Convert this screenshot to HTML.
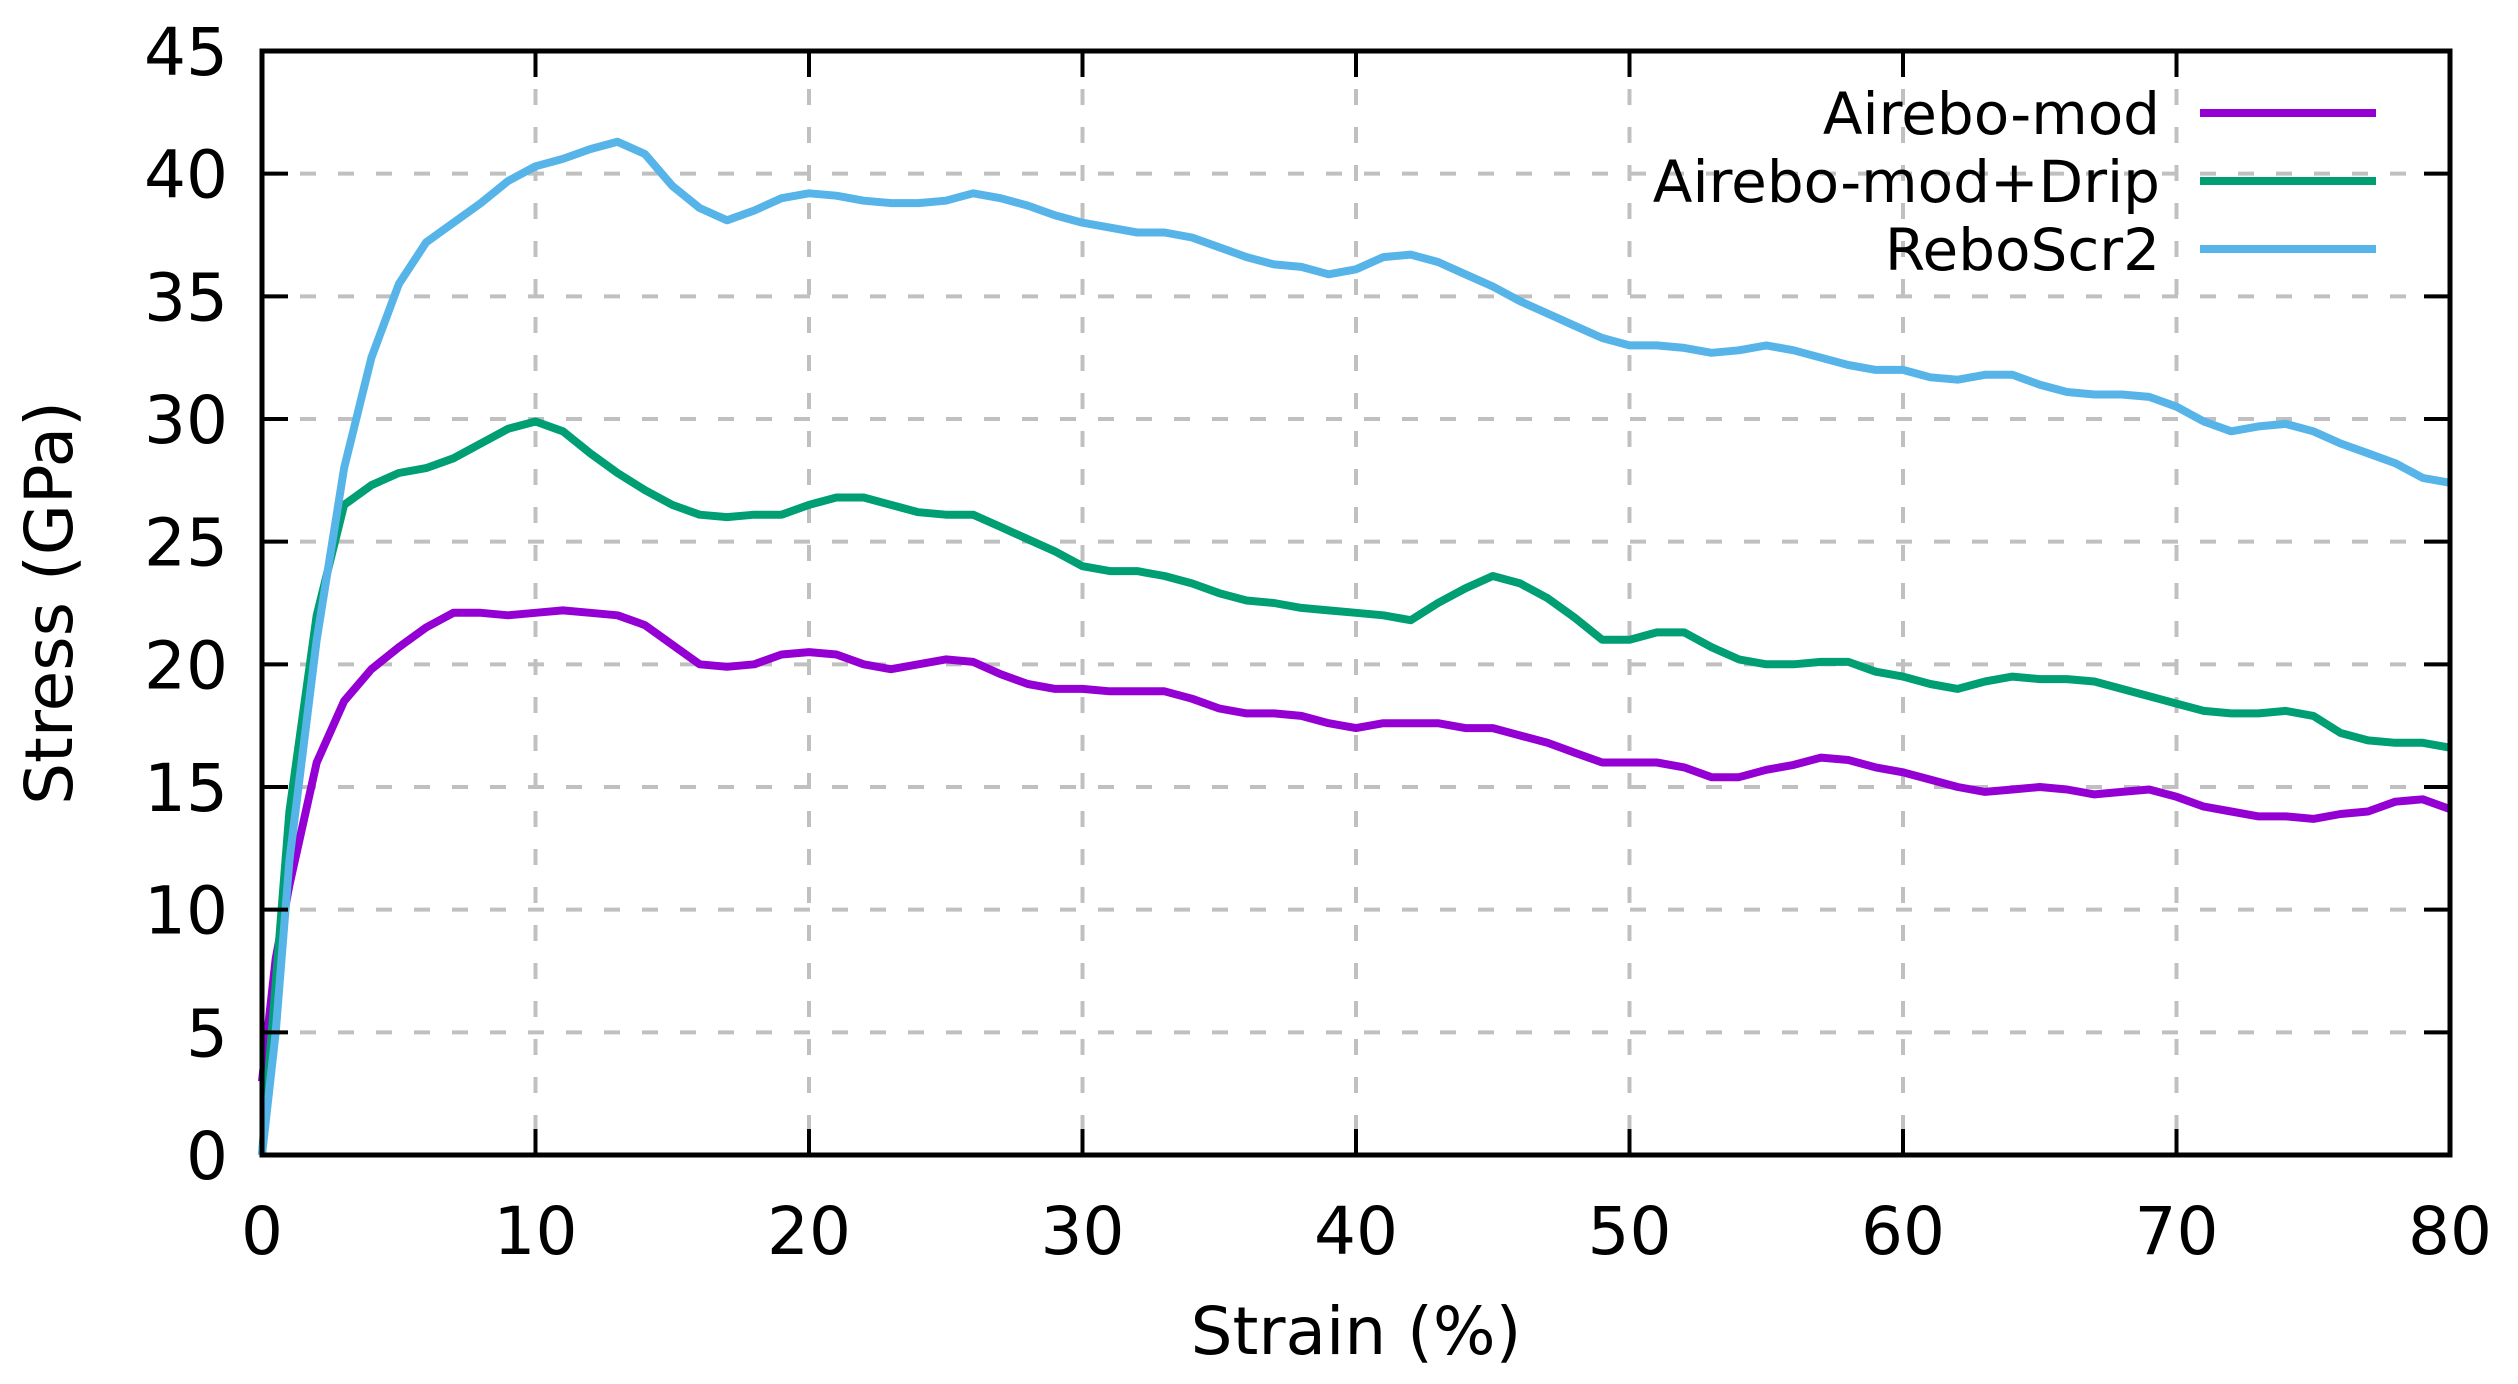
<!DOCTYPE html>
<html><head><meta charset="utf-8"><style>
html,body{margin:0;padding:0;background:#fff;}
svg{display:block;font-family:"DejaVu Sans","Liberation Sans",sans-serif;}
</style></head><body>
<svg id="chart" width="2518" height="1384" viewBox="0 0 2518 1384" xmlns="http://www.w3.org/2000/svg">
<rect x="0" y="0" width="2518" height="1384" fill="#fff"/>
<g id="grid"></g>
<g id="series"></g>
<g id="axes"></g>
<g id="legend"></g>
<text x="1356" y="1354" font-size="66" text-anchor="middle">Strain (%)</text>
<text transform="translate(72,603) rotate(-90)" font-size="66" text-anchor="middle">Stress (GPa)</text>
</svg>
<script>
const strain = [0,0.5,1,2,3,4,5,6,7,8,9,10,11,12,13,14,15,16,17,18,19,20,21,22,23,24,25,26,27,28,29,30,31,32,33,34,35,36,37,38,39,40,41,42,43,44,45,46,47,48,49,50,51,52,53,54,55,56,57,58,59,60,61,62,63,64,65,66,67,68,69,70,71,72,73,74,75,76,77,78,79,80];
const airebo = [3,8,11,16,18.5,19.8,20.7,21.5,22.1,22.1,22,22.1,22.2,22.1,22,21.6,20.8,20,19.9,20,20.4,20.5,20.4,20,19.8,20,20.2,20.1,19.6,19.2,19,19,18.9,18.9,18.9,18.6,18.2,18,18,17.9,17.6,17.4,17.6,17.6,17.6,17.4,17.4,17.1,16.8,16.4,16,16,16,15.8,15.4,15.4,15.7,15.9,16.2,16.1,15.8,15.6,15.3,15,14.8,14.9,15,14.9,14.7,14.8,14.9,14.6,14.2,14,13.8,13.8,13.7,13.9,14,14.4,14.5,14.1];
const aireboDrip = [0,7,14,22,26.5,27.3,27.8,28,28.4,29,29.6,29.9,29.5,28.6,27.8,27.1,26.5,26.1,26,26.1,26.1,26.5,26.8,26.8,26.5,26.2,26.1,26.1,25.6,25.1,24.6,24,23.8,23.8,23.6,23.3,22.9,22.6,22.5,22.3,22.2,22.1,22,21.8,22.5,23.1,23.6,23.3,22.7,21.9,21,21,21.3,21.3,20.7,20.2,20,20,20.1,20.1,19.7,19.5,19.2,19,19.3,19.5,19.4,19.4,19.3,19,18.7,18.4,18.1,18,18,18.1,17.9,17.2,16.9,16.8,16.8,16.6];
const reboScr2 = [0,5,12,21,28,32.5,35.5,37.2,38,38.8,39.7,40.3,40.6,41,41.3,40.8,39.5,38.6,38.1,38.5,39,39.2,39.1,38.9,38.8,38.8,38.9,39.2,39,38.7,38.3,38,37.8,37.6,37.6,37.4,37,36.6,36.3,36.2,35.9,36.1,36.6,36.7,36.4,35.9,35.4,34.8,34.3,33.8,33.3,33,33,32.9,32.7,32.8,33,32.8,32.5,32.2,32,32,31.7,31.6,31.8,31.8,31.4,31.1,31,31,30.9,30.5,29.9,29.5,29.7,29.8,29.5,29,28.6,28.2,27.6,27.4];
const xTicks = [0,10,20,30,40,50,60,70,80];
const yTicks = [0,5,10,15,20,25,30,35,40,45];
const seriesNames = ["Airebo-mod","Airebo-mod+Drip","ReboScr2"];
const seriesColors = ["#9400d3","#009e73","#56b4e9"];
const seriesData = [airebo, aireboDrip, reboScr2];

const L=262,R=2450,T=51,B=1155;
const X0=0,X1=80,Y0=0,Y1=45;
function sx(v){return L+(v-X0)/(X1-X0)*(R-L);}
function sy(v){return B-(v-Y0)/(Y1-Y0)*(B-T);}
const NS="http://www.w3.org/2000/svg";
function mk(tag,attrs,parent){const e=document.createElementNS(NS,tag);for(const k in attrs)e.setAttribute(k,attrs[k]);parent.appendChild(e);return e;}
const grid=document.getElementById('grid'),axes=document.getElementById('axes'),series=document.getElementById('series'),legend=document.getElementById('legend');

xTicks.forEach(v=>{
  if(v>X0&&v<X1){
    const g=mk('line',{x1:sx(v),x2:sx(v),y1:T,y2:B,stroke:'#c0c0c0','stroke-width':4,'stroke-dasharray':'16,22'},grid);
    
    
  }
  const t1=mk('line',{x1:sx(v),x2:sx(v),y1:B,y2:B-26,stroke:'#000','stroke-width':4},axes);
  
  
  const t2=mk('line',{x1:sx(v),x2:sx(v),y1:T,y2:T+26,stroke:'#000','stroke-width':4},axes);
  
  
  const lb=mk('text',{x:sx(v),y:1254,'font-size':66,'text-anchor':'middle'},axes);
  lb.textContent=v;
  
  
});
yTicks.forEach(v=>{
  if(v>Y0&&v<Y1){
    const g=mk('line',{x1:L,x2:R,y1:sy(v),y2:sy(v),stroke:'#c0c0c0','stroke-width':4,'stroke-dasharray':'16,22'},grid);
    
    
  }
  const t1=mk('line',{x1:L,x2:L+26,y1:sy(v),y2:sy(v),stroke:'#000','stroke-width':4},axes);
  
  
  const t2=mk('line',{x1:R,x2:R-26,y1:sy(v),y2:sy(v),stroke:'#000','stroke-width':4},axes);
  
  
  const lb=mk('text',{x:228,y:sy(v)+24,'font-size':66,'text-anchor':'end'},axes);
  lb.textContent=v;
  
  
});
const frame=mk('rect',{x:L,y:T,width:R-L,height:B-T,fill:'none',stroke:'#000','stroke-width':5},axes);



seriesData.forEach((arr,i)=>{
  const pts=arr.map((v,j)=>sx(strain[j]).toFixed(1)+','+sy(v).toFixed(1)).join(' ');
  const p=mk('polyline',{points:pts,fill:'none',stroke:seriesColors[i],'stroke-width':8,'stroke-linejoin':'round'},series);
  
  
  const ly=113+i*68;
  const ll=mk('line',{x1:2200,x2:2376,y1:ly,y2:ly,stroke:seriesColors[i],'stroke-width':8},legend);
  
  
  const lt=mk('text',{x:2160,y:ly+21,'font-size':58,'text-anchor':'end'},legend);
  lt.textContent=seriesNames[i];
  
  
});
</script>
</body></html>
